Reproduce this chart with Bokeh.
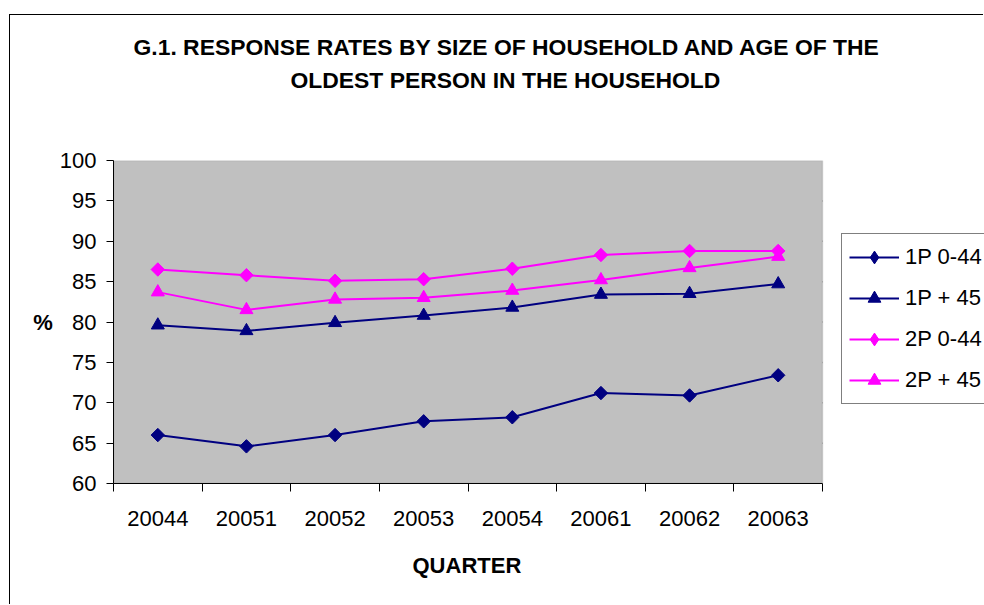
from bokeh.plotting import figure
from bokeh.models import (Range1d, FixedTicker, Legend, LegendItem, Title,
                          BoxAnnotation)
from bokeh.embed import file_html
from bokeh.resources import INLINE
import math

# Quarterly response rates (%) by household size and age of oldest member
quarters = ["20044", "20051", "20052", "20053", "20054", "20061", "20062", "20063"]
p1_0_44 = [66.0, 64.6, 66.0, 67.7, 68.2, 71.2, 70.9, 73.4]
p1_45 = [79.6, 78.9, 79.9, 80.8, 81.8, 83.4, 83.5, 84.7]
p2_0_44 = [86.5, 85.8, 85.1, 85.3, 86.6, 88.3, 88.8, 88.8]
p2_45 = [83.7, 81.5, 82.8, 83.0, 83.9, 85.2, 86.7, 88.1]
series_names = ["1P 0-44", "1P + 45", "2P 0-44", "2P + 45"]
y_ticks = [60, 65, 70, 75, 80, 85, 90, 95, 100]
title_lines = ["G.1. RESPONSE RATES BY SIZE OF HOUSEHOLD AND AGE OF THE",
               "OLDEST PERSON IN THE HOUSEHOLD"]
x_title = "QUARTER"
y_title = "%"

FONT = "Liberation Sans"
NAVY = "#000080"
MAGENTA = "#FF00FF"
NAN = float("nan")

# page geometry of the chart area (left/top framed by a thin border)
X0, Y0 = 10, 15
W, H = 974, 590
# grey plotting area; the drawing frame itself runs on to the right edge
# so that the key, which sits right of the plotting area, is shown
PLOT_L, PLOT_R, PLOT_T, PLOT_B = 113, 822, 160, 483

n = len(quarters)
xs = [i + 0.5 for i in range(n)]
x_end = n * (X0 + W - PLOT_L) / (PLOT_R - PLOT_L)

p = figure(width=W, height=H, output_backend="svg", toolbar_location=None,
           x_range=Range1d(0, x_end), y_range=Range1d(y_ticks[0], y_ticks[-1]),
           min_border_left=PLOT_L - X0, min_border_right=0,
           min_border_top=PLOT_T - Y0, min_border_bottom=Y0 + H - PLOT_B)
p.margin = (Y0 - 1, 0, 0, X0 - 1)
p.styles = {"border-left": "1px solid #000000", "border-top": "1px solid #000000"}

p.background_fill_color = "#FFFFFF"
p.border_fill_color = "#FFFFFF"
p.outline_line_color = None

# grey plotting area with its light border
p.add_layout(BoxAnnotation(left=0, right=n, bottom=y_ticks[0], top=y_ticks[-1],
                           fill_color="#C0C0C0", fill_alpha=1,
                           line_color="#8A8A8A", line_width=1.5,
                           level="underlay"))
# horizontal grid lines across the plotting area only
inner = y_ticks[1:-1]
p.segment(x0=[0] * len(inner), y0=inner, x1=[n] * len(inner), y1=inner,
          line_color="#4A4A4A", line_width=1.5, level="underlay")
p.grid.visible = False

# heading: a thin spacer next to the plot, then the two bold lines above it
p.add_layout(Title(text=" ", text_font_size="1px", standoff=65), "above")
for text, off, gap in [(title_lines[1], 177, 0), (title_lines[0], 20, 10)]:
    p.add_layout(Title(text=text, align="left", offset=off, standoff=gap,
                       vertical_align="bottom", text_font=FONT,
                       text_font_size="22.9px", text_font_style="bold",
                       text_color="#000000"), "above")

# x axis: quarter names centred in their slots, ticks between the slots
p.xaxis.bounds = (0, n)
p.xaxis.ticker = FixedTicker(ticks=xs, minor_ticks=list(range(n + 1)))
p.xaxis.major_label_overrides = {x: q for x, q in zip(xs, quarters)}
p.xaxis.major_tick_line_color = None
p.xaxis.minor_tick_line_color = "#000000"
p.xaxis.minor_tick_out = 8
p.xaxis.minor_tick_in = 0
p.xaxis.major_label_standoff = 19
p.add_layout(Title(text=x_title, align="left", offset=299, standoff=48,
                   vertical_align="top", text_font=FONT,
                   text_font_size="22px", text_font_style="bold",
                   text_color="#000000"), "below")

p.yaxis.ticker = FixedTicker(ticks=y_ticks)
p.yaxis.minor_tick_line_color = None
p.yaxis.major_tick_out = 7
p.yaxis.major_tick_in = 0
p.yaxis.major_label_standoff = 10
p.yaxis.axis_label = y_title
p.yaxis.axis_label_orientation = "horizontal"
p.yaxis.axis_label_standoff = 4
p.yaxis.axis_label_text_font = FONT
p.yaxis.axis_label_text_font_size = "22px"
p.yaxis.axis_label_text_font_style = "bold"
p.yaxis.axis_label_text_color = "#000000"

for ax in (p.xaxis, p.yaxis):
    ax.axis_line_color = "#000000"
    ax.axis_line_width = 1
    ax.major_label_text_font = FONT
    ax.major_label_text_font_size = "22px"
    ax.major_label_text_color = "#000000"

specs = [
    (p1_0_44, NAVY, "diamond"),
    (p1_45, NAVY, "triangle"),
    (p2_0_44, MAGENTA, "diamond"),
    (p2_45, MAGENTA, "triangle"),
]
items = []
for name, (vals, color, kind) in zip(series_names, specs):
    ln = p.line(xs, vals, line_color=color, line_width=2)
    if kind == "diamond":
        # rotated squares give the broad diamond markers
        p.scatter(xs, vals, marker="square", size=9.5, angle=math.pi / 4,
                  fill_color=color, line_color=color)
    else:
        p.scatter(xs, vals, marker="triangle", size=13,
                  fill_color=color, line_color=color)
    # key marker for the legend (no visible point of its own)
    key = p.scatter(x=[NAN], y=[NAN], marker=kind,
                    fill_color=color, line_color=color)
    items.append(LegendItem(label=name, renderers=[ln, key]))

legend = Legend(items=items, location=(841 - PLOT_L, PLOT_B - 404),
                orientation="vertical",
                border_line_color="#000000", border_line_width=1,
                background_fill_color="#FFFFFF", background_fill_alpha=1,
                label_text_font=FONT, label_text_font_size="22px",
                label_text_color="#000000",
                glyph_width=50, glyph_height=32, label_height=32,
                label_standoff=6, spacing=9, padding=7, margin=0)
p.add_layout(legend, "center")

open("out.html", "w").write(file_html(p, INLINE))
